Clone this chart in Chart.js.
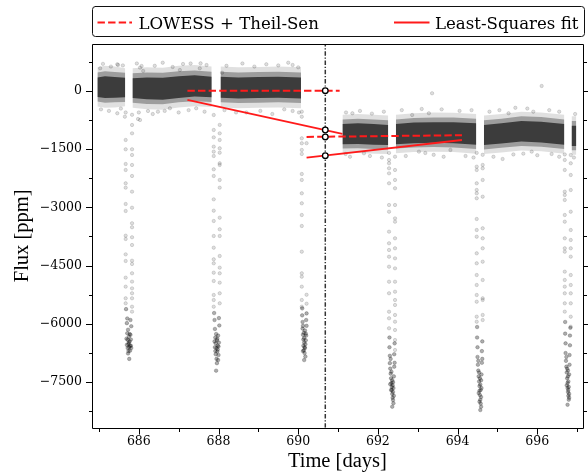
<!DOCTYPE html>
<html><head><meta charset="utf-8">
<script src="https://cdn.jsdelivr.net/npm/chart.js@4/dist/chart.umd.min.js"></script>
<style>html,body{margin:0;padding:0;background:#fff;}canvas{display:block;}</style>
</head><body>
<canvas id="c" width="588" height="472"></canvas>
<script>
// ---------- axes ----------
const xRange = [684.825, 697.14];
const yRange = [-8670, 1201];
const xTicks = [686, 688, 690, 692, 694, 696];
const xMinorTicks = [685, 687, 689, 691, 693, 695, 697];
const yTicks = [0, -1500, -3000, -4500, -6000, -7500];
const yMinorTicks = [750, -750, -2250, -3750, -5250, -6750, -8250];
const xTitle = 'Time [days]';
const yTitle = 'Flux [ppm]';
const legendLabels = ['LOWESS + Theil-Sen', 'Least-Squares fit'];

// ---------- dense out-of-transit flux band (envelopes) ----------
const segTimes = [
  [684.96, 685.15, 685.40, 685.66],
  [685.84, 686.20, 686.60, 687.00, 687.40, 687.83],
  [688.05, 688.50, 689.00, 689.50, 690.07],
  [691.11, 691.50, 691.90, 692.26],
  [692.45, 692.90, 693.40, 693.90, 694.47],
  [694.66, 695.10, 695.60, 696.10, 696.68],
  [696.86, 696.98]
];
const outerHi = [[600,640,620,580],[580,600,590,640,660,620],[620,600,610,620,600],[-620,-600,-620,-640],[-620,-580,-560,-570,-600],[-640,-600,-540,-560,-620],[-660,-660]];
const midHi   = [[470,500,480,460],[450,470,460,500,520,490],[490,470,480,490,470],[-740,-720,-740,-760],[-740,-700,-690,-690,-720],[-760,-720,-660,-680,-740],[-780,-780]];
const coreHi  = [[340,370,350,330],[320,340,330,370,400,360],[360,340,350,360,340],[-860,-840,-860,-880],[-860,-820,-810,-810,-840],[-880,-840,-780,-800,-860],[-900,-900]];
const coreLo  = [[-160,-190,-180,-170],[-190,-220,-230,-190,-150,-170],[-180,-200,-190,-180,-200],[-1380,-1370,-1390,-1400],[-1380,-1350,-1340,-1350,-1390],[-1400,-1360,-1310,-1330,-1390],[-1420,-1420]];
const midLo   = [[-280,-310,-300,-290],[-310,-340,-350,-300,-270,-290],[-300,-320,-310,-300,-320],[-1490,-1480,-1500,-1510],[-1490,-1460,-1450,-1460,-1500],[-1510,-1470,-1420,-1440,-1500],[-1530,-1530]];
const outerLo = [[-410,-440,-430,-400],[-440,-480,-490,-430,-400,-420],[-430,-450,-440,-430,-450],[-1610,-1600,-1620,-1630],[-1610,-1580,-1570,-1580,-1620],[-1630,-1590,-1540,-1560,-1620],[-1650,-1650]];

// ---------- scattered outliers and band-edge points [time, flux] ----------
const outliers = [
  [685.03,576],[685.46,679],[685.48,661],[686.03,592],[686.07,635],[686.11,507],[687.03,532],[687.11,687],
  [687.53,576],[687.55,704],[688.09,463],[689.86,661],[693.36,-67],[696.11,121],[691.36,-581],[693.28,-581],
  [695.28,-581],[695.90,-540],[692.86,-625],
  [685.46,-581],[685.65,-669],[685.98,-728],[686.03,-754],[686.23,-522],[686.48,-540],[686.78,-453],
  [687.44,-453],[688.44,-560],[689.86,-522],[691.19,-1628],[691.65,-1611],[693.03,-1568],[693.19,-1603],
  [693.82,-1525],[695.13,-1757],[695.86,-1568],[696.36,-1628]
];
const edgePoints = [
  [685.10,690],[685.30,620],[685.60,650],[685.95,700],[686.40,640],[686.60,720],[686.85,610],[687.30,700],
  [687.70,660],[688.20,640],[688.60,700],[688.90,620],[689.20,680],[689.50,650],[689.75,720],[690.00,600],
  [685.05,-480],[685.25,-520],[685.55,-460],[686.00,-560],[686.35,-600],[686.65,-520],[687.00,-560],[687.25,-500],
  [687.65,-540],[688.15,-500],[688.70,-560],[689.05,-520],[689.35,-600],[689.65,-480],[690.02,-560],
  [691.20,-560],[691.55,-520],[691.85,-590],[692.15,-540],[692.60,-500],[693.10,-470],[693.60,-480],[694.05,-520],
  [694.35,-500],[694.80,-540],[695.05,-500],[695.45,-440],[695.75,-460],[696.30,-500],[696.55,-540],[696.95,-600],
  [691.30,-1700],[691.80,-1680],[692.10,-1720],[692.70,-1680],[693.40,-1650],[693.65,-1700],[694.20,-1680],
  [694.40,-1720],[694.90,-1700],[695.40,-1640],[695.65,-1620],[696.00,-1660],[696.55,-1700],[696.92,-1720]
];

// ---------- transits: ingress column, egress column, bottom cloud ----------
const transitInT  = [685.67, 687.88, 690.09, 692.28, 694.48, 696.69];
const transitOutT = [685.83, 688.03, 690.21, 692.43, 694.63, 696.84];
const transitIn = [
  [-560,-1268,-1508,-1886,-2040,-2383,-2495,-2915,-3095,-3730,-3815,-4210,-4381,-4810,-5042,-5341,-5470],
  [-625,-1011,-1200,-1440,-1568,-1680,-2023,-2194,-2795,-3087,-3352,-3738,-4039,-4338,-4441,-4682,-4896,-5256,-5385,-5557],
  [-540,-670,-1225,-1353,-1525,-1628,-2143,-2297,-2640,-2897,-3198,-3481,-4142,-4698,-4785,-5042,-5385,-5557],
  [-1600,-1783,-1868,-1997,-2126,-2383,-2941,-3113,-3627,-3926,-4098,-4271,-4528,-4914,-5212,-5686,-5856,-6113],
  [-1600,-1955,-2040,-2383,-2555,-2640,-2768,-3301,-3584,-3756,-4184,-4441,-4742,-4999,-5256,-5428,-5814,-5943],
  [-1640,-1783,-2040,-2598,-2683,-2812,-3198,-3370,-3798,-4055,-4142,-4656,-4870,-5042,-5213,-5470,-5685]
];
const transitOut = [
  [-620,-882,-1097,-1508,-1654,-1911,-2194,-2598,-3010,-3411,-3514,-3771,-3970,-4373,-4458,-4698,-4912,-5085,-5212,-5341,-5557,-5685],
  [-880,-1097,-1268,-1482,-1595,-1868,-1911,-2297,-2495,-3267,-3566,-3738,-4253,-4553,-4698,-4939,-5212,-5470],
  [-1350,-5250,-5480],
  [-1698,-2040,-2297,-2511,-2941,-3284,-3370,-3798,-4055,-4313,-4570,-4914,-5171,-5385,-5513,-5770,-5943,-6157,-6414,-6671],
  [-1650,-1911,-1997,-2297,-2727,-3540,-3798,-4055,-4399,-4870,-5341,-5385,-5770,-5900],
  [-1654,-1868,-2169,-2555,-3113,-3584,-3841,-4055,-4270,-4742,-4999,-5213,-5470,-5814,-6071]
];
const transit1Bottom = [[685.68,-5620],[685.70,-5980],[685.71,-6240],[685.72,-6410],[685.73,-6150],[685.74,-6520],[685.75,-6330],[685.76,-6600],[685.77,-6450],[685.78,-6690],[685.79,-6280],[685.80,-6560],[685.81,-6060],[685.69,-6380],[685.72,-6620],[685.75,-6480],[685.78,-6560],[685.74,-6700],[685.77,-6260],[685.80,-6400],[685.71,-5860],[685.79,-5900],[685.73,-6760],[685.76,-6900],[685.70,-6540],[685.81,-6620]];
const transit2Bottom = [[687.89,-5720],[687.90,-5900],[687.91,-6130],[687.92,-6350],[687.93,-6500],[687.94,-6260],[687.95,-6620],[687.96,-6420],[687.97,-6710],[687.98,-6560],[687.99,-6300],[688.00,-6800],[688.01,-6480],[688.02,-6040],[687.90,-6450],[687.93,-6780],[687.95,-6900],[687.96,-7010],[687.98,-6660],[688.00,-6580],[687.92,-6700],[687.97,-6380],[688.01,-5850],[687.91,-6600],[687.94,-7203],[687.99,-6930]];
const transit3Bottom = [[690.10,-5600],[690.10,-5780],[690.11,-5950],[690.11,-6120],[690.12,-6280],[690.12,-6050],[690.13,-6400],[690.13,-6560],[690.14,-6230],[690.14,-6680],[690.15,-6480],[690.15,-6360],[690.16,-6600],[690.16,-6750],[690.17,-6170],[690.18,-6520],[690.18,-6840],[690.19,-6420],[690.20,-6300],[690.20,-5900],[690.21,-5730],[690.21,-6050],[690.12,-6700],[690.15,-6930],[690.17,-6620],[690.19,-6250]];
const transit4Bottom = [[692.29,-6350],[692.29,-6600],[692.30,-6820],[692.30,-7010],[692.31,-7150],[692.32,-7280],[692.32,-6900],[692.33,-7400],[692.34,-7520],[692.34,-7230],[692.35,-7620],[692.35,-7700],[692.36,-7450],[692.36,-7800],[692.37,-7580],[692.37,-7900],[692.38,-7750],[692.38,-7960],[692.39,-7650],[692.39,-8040],[692.40,-7850],[692.40,-7350],[692.41,-7100],[692.41,-6780],[692.42,-6500],[692.42,-7000],[692.33,-7700],[692.36,-8130],[692.38,-7500],[692.31,-7550]];
const transit5Bottom = [[694.49,-6080],[694.49,-6350],[694.50,-6600],[694.50,-6850],[694.51,-7050],[694.52,-7200],[694.52,-6950],[694.53,-7350],[694.54,-7480],[694.54,-7250],[694.55,-7600],[694.55,-7720],[694.56,-7400],[694.56,-7830],[694.57,-7950],[694.57,-7560],[694.58,-8050],[694.58,-7700],[694.59,-7880],[694.59,-8130],[694.60,-7650],[694.60,-7300],[694.61,-7000],[694.61,-6700],[694.62,-6450],[694.62,-6900],[694.55,-8000],[694.57,-8215],[694.53,-7780],[694.59,-7450]];
const transit6Bottom = [[696.70,-5950],[696.70,-6250],[696.71,-6500],[696.71,-6750],[696.72,-6950],[696.73,-7100],[696.73,-6850],[696.74,-7250],[696.75,-7400],[696.75,-7150],[696.76,-7520],[696.76,-7650],[696.77,-7350],[696.77,-7750],[696.78,-7850],[696.78,-7480],[696.79,-7950],[696.79,-7620],[696.80,-7800],[696.80,-7300],[696.81,-7050],[696.81,-6800],[696.82,-6550],[696.82,-6300],[696.83,-6100],[696.76,-8080],[696.78,-7700],[696.74,-7580],[696.80,-7900],[696.77,-7200]];
const transitBottoms = [transit1Bottom, transit2Bottom, transit3Bottom, transit4Bottom, transit5Bottom, transit6Bottom];

// ---------- fits ----------
const divideTime = 690.68;
const lowessPreT = [687.22, 691.04], lowessPreF = [0, 0];
const lowessPostT = [690.21, 694.11], lowessPostF = [-1190, -1145];
const lsqPreT = [687.22, 691.11], lsqPreF = [-239, -1114];
const lsqPostT = [690.21, 694.11], lsqPostF = [-1724, -1269];
const markerF = [0, -1011, -1190, -1672];

// ---------- build datasets ----------
const pts = (ts, fs) => ts.map((t, i) => ({x: t, y: fs[i]}));
const datasets = [];
const bandColors = ['rgba(0,0,0,0.12)', 'rgba(0,0,0,0.30)', 'rgba(0,0,0,0.62)'];
[[outerHi, outerLo], [midHi, midLo], [coreHi, coreLo]].forEach(([hi, lo], li) => {
  segTimes.forEach((ts, s) => {
    datasets.push({type: 'line', data: pts(ts, hi[s]), borderWidth: 0, borderColor: 'rgba(0,0,0,0)', pointRadius: 0, fill: false, order: 20 - li});
    datasets.push({type: 'line', data: pts(ts, lo[s]), borderWidth: 0, borderColor: 'rgba(0,0,0,0)', pointRadius: 0, fill: '-1', backgroundColor: bandColors[li], order: 20 - li});
  });
});
const sparsePts = [];
outliers.concat(edgePoints).forEach(([t, f]) => sparsePts.push({x: t, y: f}));
transitIn.forEach((arr, k) => arr.forEach(f => sparsePts.push({x: transitInT[k], y: f})));
transitOut.forEach((arr, k) => arr.forEach(f => sparsePts.push({x: transitOutT[k], y: f})));
const bottomPts = [];
transitBottoms.forEach(arr => arr.forEach(([t, f]) => bottomPts.push({x: t, y: f})));
datasets.push({type: 'scatter', data: sparsePts, pointRadius: 1.7, pointBackgroundColor: 'rgba(0,0,0,0.13)', pointBorderColor: 'rgba(0,0,0,0.22)', pointBorderWidth: 0.6, order: 5});
datasets.push({type: 'scatter', data: bottomPts, pointRadius: 1.8, pointBackgroundColor: 'rgba(0,0,0,0.32)', pointBorderColor: 'rgba(0,0,0,0.35)', pointBorderWidth: 0.6, order: 5});
datasets.push({type: 'line', data: [{x: divideTime, y: yRange[0]}, {x: divideTime, y: yRange[1]}], borderColor: 'rgba(30,30,30,0.9)', borderWidth: 1.5, borderDash: [4.5, 1.8, 1.2, 1.8], pointRadius: 0, fill: false, order: 3});
const red = '#ff1a1a';
datasets.push({type: 'line', data: pts(lowessPreT, lowessPreF), borderColor: red, borderWidth: 2, borderDash: [7.4, 3.2], pointRadius: 0, fill: false, order: 2});
datasets.push({type: 'line', data: pts(lowessPostT, lowessPostF), borderColor: red, borderWidth: 2, borderDash: [7.4, 3.2], pointRadius: 0, fill: false, order: 2});
datasets.push({type: 'line', data: pts(lsqPreT, lsqPreF), borderColor: red, borderWidth: 1.8, pointRadius: 0, fill: false, order: 2});
datasets.push({type: 'line', data: pts(lsqPostT, lsqPostF), borderColor: red, borderWidth: 1.8, pointRadius: 0, fill: false, order: 2});
datasets.push({type: 'scatter', data: markerF.map(f => ({x: divideTime, y: f})), pointRadius: 2.8, pointBackgroundColor: '#fff', pointBorderColor: '#000', pointBorderWidth: 1.3, order: 0});

// ---------- plugins ----------
const frameAndTicks = {
  id: 'frameAndTicks',
  afterDatasetsDraw(chart) {
    const {ctx, chartArea: a, scales: {x, y}} = chart;
    const L = Math.round(a.left) + 0.5, R = Math.round(a.right) + 0.5, T = Math.round(a.top) + 0.5, B = Math.round(a.bottom) + 0.5;
    ctx.save();
    ctx.strokeStyle = '#000';
    ctx.lineWidth = 1;
    ctx.beginPath();
    ctx.rect(L, T, R - L, B - T);
    ctx.stroke();
    ctx.beginPath();
    const yt = (vals, len) => vals.forEach(v => {
      const p = Math.round(y.getPixelForValue(v)) + 0.5;
      ctx.moveTo(L - len, p); ctx.lineTo(L, p);
      ctx.moveTo(R, p); ctx.lineTo(R + len, p);
    });
    const xt = (vals, len) => vals.forEach(v => {
      const p = Math.round(x.getPixelForValue(v)) + 0.5;
      ctx.moveTo(p, B); ctx.lineTo(p, B + len);
    });
    yt(yTicks, 6.5); yt(yMinorTicks, 3.5);
    xt(xTicks, 6); xt(xMinorTicks, 3.5);
    ctx.stroke();
    ctx.restore();
  }
};
const boxLegend = {
  id: 'boxLegend',
  afterDraw(chart) {
    const ctx = chart.ctx;
    ctx.save();
    const x0 = 92, y0 = 6, x1 = 585, y1 = 37, r = 3;
    ctx.beginPath();
    ctx.moveTo(x0 + r, y0 + 0.5);
    ctx.arcTo(x1 - 0.5, y0 + 0.5, x1 - 0.5, y1, r);
    ctx.arcTo(x1 - 0.5, y1 - 0.5, x0, y1 - 0.5, r);
    ctx.arcTo(x0 + 0.5, y1 - 0.5, x0 + 0.5, y0, r);
    ctx.arcTo(x0 + 0.5, y0 + 0.5, x1, y0 + 0.5, r);
    ctx.closePath();
    ctx.fillStyle = '#fff';
    ctx.fill();
    ctx.strokeStyle = '#111';
    ctx.lineWidth = 1;
    ctx.stroke();
    const ly = 22.5;
    ctx.strokeStyle = red;
    ctx.lineWidth = 2;
    ctx.setLineDash([7.4, 3.2]);
    ctx.beginPath(); ctx.moveTo(97.5, ly); ctx.lineTo(132, ly); ctx.stroke();
    ctx.setLineDash([]);
    ctx.beginPath(); ctx.moveTo(394, ly); ctx.lineTo(429.5, ly); ctx.stroke();
    ctx.fillStyle = '#000';
    ctx.font = '16.6px "DejaVu Serif"';
    ctx.textBaseline = 'alphabetic';
    ctx.textAlign = 'left';
    ctx.fillText(legendLabels[0], 138.5, 28.5);
    ctx.fillText(legendLabels[1], 435, 28.5);
    ctx.restore();
  }
};

const fmt = v => (v < 0 ? '\u2212' + Math.abs(v) : String(v));
Chart.defaults.font.family = '"DejaVu Serif"';
Chart.defaults.color = '#000';

new Chart(document.getElementById('c'), {
  type: 'scatter',
  data: {datasets},
  options: {
    responsive: false,
    animation: false,
    events: [],
    layout: {padding: {top: 44, right: 3.3, left: 0, bottom: 0}},
    plugins: {legend: {display: false}, tooltip: {enabled: false}},
    scales: {
      x: {
        type: 'linear', min: xRange[0], max: xRange[1],
        afterBuildTicks: s => { s.ticks = xTicks.map(v => ({value: v})); },
        afterFit: s => { s.height = 44.3; },
        grid: {display: false, drawTicks: false},
        border: {display: false},
        ticks: {padding: 7, font: {size: 12.5, family: '"DejaVu Serif"'}, color: '#000', maxRotation: 0, callback: v => fmt(v)},
        title: {display: true, text: xTitle, color: '#000', font: {family: '"Liberation Serif"', size: 20.5, lineHeight: 1}, padding: {top: 0, bottom: 0}}
      },
      y: {
        type: 'linear', min: yRange[0], max: yRange[1],
        afterBuildTicks: s => { s.ticks = yTicks.map(v => ({value: v})); },
        afterFit: s => { s.width = 92; },
        grid: {display: false, drawTicks: false},
        border: {display: false},
        ticks: {padding: 10, font: {size: 12.5, family: '"DejaVu Serif"'}, color: '#000', callback: v => fmt(v)},
        title: {display: true, text: yTitle, color: '#000', font: {family: '"Liberation Serif"', size: 20.5, lineHeight: 1}, padding: {top: 12.5, bottom: 0}}
      }
    }
  },
  plugins: [frameAndTicks, boxLegend]
});
</script>
</body></html>
